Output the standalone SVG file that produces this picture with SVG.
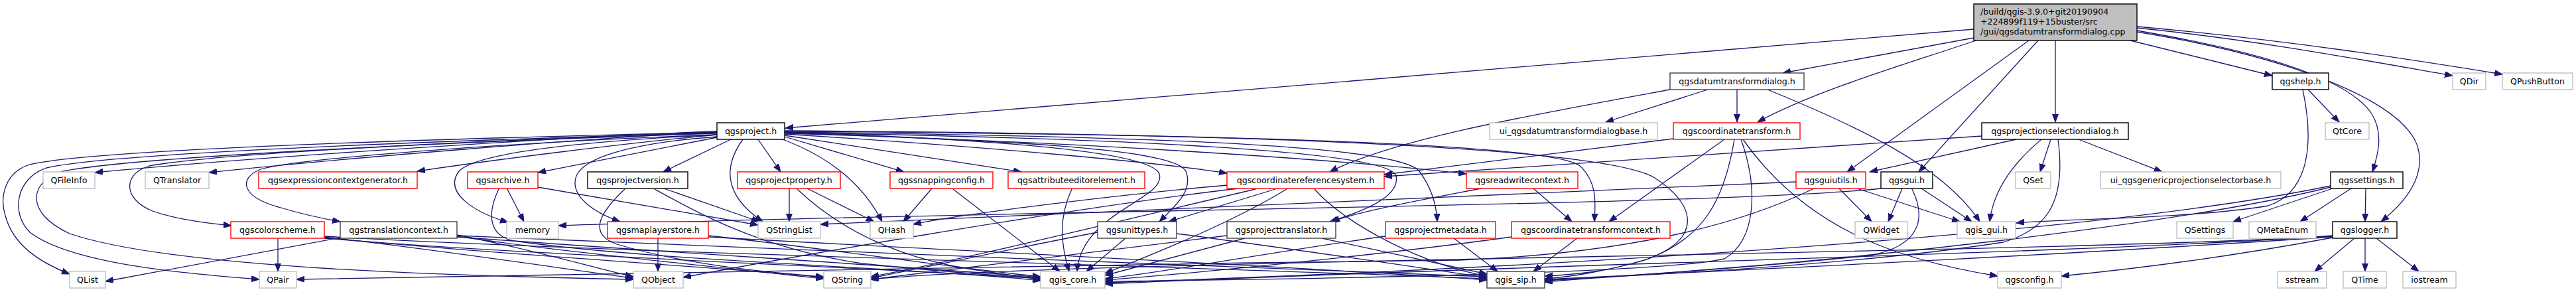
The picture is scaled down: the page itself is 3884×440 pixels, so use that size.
<svg xmlns="http://www.w3.org/2000/svg" width="3884" height="440" viewBox="0 0 3884 440">
<style>
.e{fill:none;stroke:#191970;stroke-width:1.3;marker-end:url(#a)}
.n rect{fill:#fff;stroke-width:1.4}
.r rect{stroke:#ff0000}
.g rect{stroke:#bfbfbf}
.b rect{stroke:#000}
.d rect{stroke:#404040}
text{font-family:"DejaVu Sans","Liberation Sans",sans-serif;font-size:12.6px;fill:#000}
.n text{text-anchor:middle}
</style>
<defs>
<marker id="a" markerUnits="userSpaceOnUse" markerWidth="13" markerHeight="10" refX="12" refY="4.5" orient="auto" viewBox="0 0 13 10"><path d="M0,0 L12,4.5 L0,9 z" fill="#191970" stroke="#191970" stroke-width="1"/></marker>
</defs>
<rect width="3884" height="440" fill="#fff"/>
<g id="connectors">
<path class="e" d="M2976,44 L1184,193"/>
<path class="e" d="M2976,57 L2688,110"/>
<path class="e" d="M2979,61 C2880,95 2740,135 2650,184"/>
<path class="e" d="M3059,61 L2785,259"/>
<path class="e" d="M3073,61 L2893,259"/>
<path class="e" d="M3099,61 L3099,184"/>
<path class="e" d="M3212,61 L3426,114"/>
<path class="e" d="M3222,46 C3420,80 3540,120 3575,170 C3595,200 3585,235 3577,259"/>
<path class="e" d="M3222,48 C3450,85 3620,150 3645,220 C3660,270 3620,310 3590,334"/>
<path class="e" d="M3222,42 C3400,60 3560,90 3698,114"/>
<path class="e" d="M3222,40 C3450,60 3650,92 3773,112"/>
<path class="e" d="M2575,135 L2421,184"/>
<path class="e" d="M2619,135 L2619,184"/>
<path class="e" d="M2518,135 C2300,175 2100,210 2005,259"/>
<path class="e" d="M2665,135 C2800,190 2930,250 2985,334"/>
<path class="e" d="M2523,209 L2087,263"/>
<path class="e" d="M2600,210 L2426,334"/>
<path class="e" d="M2615,210 C2600,300 2570,360 2480,392 C2420,410 2370,414 2329,416"/>
<path class="e" d="M2625,210 C2650,280 2650,360 2600,390 C2500,412 2000,420 1666,424"/>
<path class="e" d="M2628,210 C2720,340 2850,390 3012,416"/>
<path class="e" d="M3040,210 L2819,259"/>
<path class="e" d="M3078,210 C3030,250 3005,290 3000,334"/>
<path class="e" d="M3092,210 L3076,259"/>
<path class="e" d="M3134,210 L3260,259"/>
<path class="e" d="M3103,210 C3115,300 3090,345 3020,365 C2800,400 2450,416 2329,422"/>
<path class="e" d="M2988,205 L2087,266"/>
<path class="e" d="M1081,199 C800,206 150,222 45,248 C5,260 0,300 8,325 C20,370 60,395 105,413"/>
<path class="e" d="M1081,200 C800,208 170,228 70,253 C25,268 15,320 45,350 C110,400 300,414 391,421"/>
<path class="e" d="M1081,201 C800,210 220,233 95,258 C45,272 35,320 105,352 C260,405 700,416 955,421"/>
<path class="e" d="M1081,198 C900,204 400,235 143,260"/>
<path class="e" d="M1081,199 C900,207 500,240 315,260"/>
<path class="e" d="M1081,203 C950,215 750,240 629,258"/>
<path class="e" d="M1081,200 C800,208 330,230 225,250 C185,262 185,300 230,318 C270,332 320,337 349,340"/>
<path class="e" d="M1081,203 C800,213 450,238 393,255 C360,268 362,296 420,312 C460,324 490,330 513,334"/>
<path class="e" d="M1081,207 L811,260"/>
<path class="e" d="M1081,203 C900,212 720,228 692,258 C668,290 715,320 766,335"/>
<path class="e" d="M1081,206 C960,215 882,235 869,265 C858,295 895,320 935,334"/>
<path class="e" d="M1102,210 L1000,259"/>
<path class="e" d="M1120,210 C1095,245 1085,290 1150,334"/>
<path class="e" d="M1143,210 L1177,259"/>
<path class="e" d="M1180,210 C1260,240 1305,285 1330,334"/>
<path class="e" d="M1183,206 L1363,259"/>
<path class="e" d="M1183,204 L1540,259"/>
<path class="e" d="M1183,202 C1500,222 1750,245 1850,261"/>
<path class="e" d="M1183,200 C1500,212 1770,222 1788,258 C1800,288 1770,312 1748,334"/>
<path class="e" d="M1183,199 C1500,210 1735,228 1748,262 C1760,300 1630,320 1624,409"/>
<path class="e" d="M1183,201 C1600,213 2000,238 2211,262"/>
<path class="e" d="M1183,200 C1700,208 2095,228 2105,265 C2112,298 2050,320 2005,334"/>
<path class="e" d="M1183,199 C1800,206 2110,222 2140,258 C2160,285 2166,310 2167,334"/>
<path class="e" d="M1183,198 C1900,203 2340,218 2382,250 C2410,275 2405,310 2404,334"/>
<path class="e" d="M1183,197 C2000,202 2430,228 2495,268 C2560,310 2565,360 2485,390 C2420,410 2360,418 2329,420"/>
<path class="e" d="M419,359 L419,409"/>
<path class="e" d="M489,357 C650,375 850,405 955,419"/>
<path class="e" d="M489,358 C700,380 1050,400 1242,418"/>
<path class="e" d="M489,359 C800,385 1300,402 1569,420"/>
<path class="e" d="M489,356 C900,380 1700,398 2242,420"/>
<path class="e" d="M513,358 L159,424"/>
<path class="e" d="M689,354 C800,375 900,405 955,417"/>
<path class="e" d="M689,356 C850,380 1100,404 1242,420"/>
<path class="e" d="M689,357 C1000,380 1350,400 1569,418"/>
<path class="e" d="M689,355 C1100,375 1800,398 2242,417"/>
<path class="e" d="M765,285 L790,334"/>
<path class="e" d="M811,282 L1143,339"/>
<path class="e" d="M752,285 C735,320 735,355 775,363 C1000,395 1400,404 1569,423"/>
<path class="e" d="M1001,284 L1145,334"/>
<path class="e" d="M942,285 C905,320 885,352 930,368 C1030,398 1150,410 1242,417"/>
<path class="e" d="M987,285 C1060,325 1150,375 1300,397 C1420,410 1500,415 1569,419"/>
<path class="e" d="M1190,284 L1190,334"/>
<path class="e" d="M1217,284 L1318,334"/>
<path class="e" d="M1202,285 C1260,340 1340,385 1460,405 C1510,413 1540,417 1569,421"/>
<path class="e" d="M1405,284 L1362,334"/>
<path class="e" d="M1437,285 L1598,409"/>
<path class="e" d="M1616,285 C1595,330 1600,370 1612,409"/>
<path class="e" d="M1851,279 C1700,292 1450,322 1377,338"/>
<path class="e" d="M1923,285 L1762,334"/>
<path class="e" d="M1940,285 C1850,340 1720,390 1666,412"/>
<path class="e" d="M1982,285 C2030,340 2150,400 2242,416"/>
<path class="e" d="M1867,284 C1600,315 1150,395 1030,418"/>
<path class="e" d="M1893,285 C1700,330 1450,392 1313,417"/>
<path class="e" d="M1655,350 C1550,370 1400,402 1313,419"/>
<path class="e" d="M1697,359 L1638,409"/>
<path class="e" d="M1774,352 C1950,375 2150,405 2242,418"/>
<path class="e" d="M1850,355 C1650,378 1450,405 1313,421"/>
<path class="e" d="M1877,359 L1666,415"/>
<path class="e" d="M1993,359 L2242,413"/>
<path class="e" d="M2312,284 L2370,334"/>
<path class="e" d="M2233,284 C2150,300 2050,318 2008,334"/>
<path class="e" d="M2192,359 L2258,409"/>
<path class="e" d="M2089,356 C1900,382 1760,410 1666,420"/>
<path class="e" d="M2378,359 L2312,409"/>
<path class="e" d="M2279,357 C2100,382 1800,412 1666,422"/>
<path class="e" d="M992,359 L992,409"/>
<path class="e" d="M1068,355 C1250,375 1450,405 1569,417"/>
<path class="e" d="M1068,357 C1400,376 1900,398 2242,422"/>
<path class="e" d="M2773,284 L2822,334"/>
<path class="e" d="M2800,284 L2955,334"/>
<path class="e" d="M2708,274 L1237,338"/>
<path class="e" d="M2735,284 C2620,340 2450,382 2200,392 C1500,400 700,416 447,421"/>
<path class="e" d="M2836,284 C2600,310 1500,317 842,340"/>
<path class="e" d="M2868,284 L2847,334"/>
<path class="e" d="M2897,284 L2973,334"/>
<path class="e" d="M2883,285 C2905,330 2895,370 2820,385 C2600,408 2400,418 2329,425"/>
<path class="e" d="M3480,135 L3527,184"/>
<path class="e" d="M3472,135 C3490,220 3480,290 3420,310 C3300,330 3100,330 3040,336"/>
<path class="e" d="M3523,282 L3367,334"/>
<path class="e" d="M3545,284 L3468,334"/>
<path class="e" d="M3567,284 L3566,334"/>
<path class="e" d="M3514,280 C3200,345 2500,398 1666,426"/>
<path class="e" d="M3514,282 C3300,335 2800,396 2329,423"/>
<path class="e" d="M3550,359 L3490,409"/>
<path class="e" d="M3566,359 L3566,409"/>
<path class="e" d="M3583,359 L3647,409"/>
<path class="e" d="M3517,358 C3400,380 3250,402 3108,416"/>
<path class="e" d="M3517,355 C3200,380 2200,402 1666,428"/>
<path class="e" d="M3517,356 C3000,384 1600,392 1313,421"/>
<path class="e" d="M3517,357 C3100,385 2600,408 2329,421"/>
</g>
<g id="n_top" class="n"><rect x="2976" y="6" width="246" height="55" style="fill:#bfbfbf;stroke:#000"/><text x="2986" y="22" style="text-anchor:start">/build/qgis-3.9.0+git20190904</text><text x="2986" y="37" style="text-anchor:start">+224899f119+15buster/src</text><text x="2986" y="52" style="text-anchor:start">/gui/qgsdatumtransformdialog.cpp</text></g>
<g id="n_dtd" class="n d"><rect x="2518" y="110" width="202" height="25"/><text x="2619" y="127">qgsdatumtransformdialog.h</text></g>
<g id="n_help" class="n b"><rect x="3426" y="110" width="85" height="25"/><text x="3468.5" y="127">qgshelp.h</text></g>
<g id="n_qdir" class="n g"><rect x="3698" y="110" width="50" height="25"/><text x="3723" y="127">QDir</text></g>
<g id="n_qpb" class="n g"><rect x="3773" y="110" width="106" height="25"/><text x="3826" y="127">QPushButton</text></g>
<g id="n_proj" class="n b"><rect x="1081" y="185" width="102" height="25"/><text x="1132" y="202">qgsproject.h</text></g>
<g id="n_uidtd" class="n g"><rect x="2246" y="185" width="253" height="25"/><text x="2372.5" y="202">ui_qgsdatumtransformdialogbase.h</text></g>
<g id="n_ct" class="n r"><rect x="2523" y="185" width="191" height="25"/><text x="2618.5" y="202">qgscoordinatetransform.h</text></g>
<g id="n_psd" class="n b"><rect x="2988" y="185" width="221" height="25"/><text x="3098.5" y="202">qgsprojectionselectiondialog.h</text></g>
<g id="n_qtcore" class="n g"><rect x="3506" y="185" width="66" height="25"/><text x="3539" y="202">QtCore</text></g>
<g id="n_qfileinfo" class="n g"><rect x="65" y="259" width="78" height="25"/><text x="104" y="276">QFileInfo</text></g>
<g id="n_qtranslator" class="n g"><rect x="219" y="259" width="96" height="25"/><text x="267" y="276">QTranslator</text></g>
<g id="n_expr" class="n r"><rect x="390" y="259" width="239" height="25"/><text x="509.5" y="276">qgsexpressioncontextgenerator.h</text></g>
<g id="n_arch" class="n r"><rect x="705" y="259" width="106" height="25"/><text x="758" y="276">qgsarchive.h</text></g>
<g id="n_pver" class="n b"><rect x="886" y="259" width="151" height="25"/><text x="961.5" y="276">qgsprojectversion.h</text></g>
<g id="n_pprop" class="n r"><rect x="1112" y="259" width="155" height="25"/><text x="1189.5" y="276">qgsprojectproperty.h</text></g>
<g id="n_snap" class="n r"><rect x="1342" y="259" width="155" height="25"/><text x="1419.5" y="276">qgssnappingconfig.h</text></g>
<g id="n_attr" class="n r"><rect x="1520" y="259" width="206" height="25"/><text x="1623" y="276">qgsattributeeditorelement.h</text></g>
<g id="n_crs" class="n r"><rect x="1850" y="259" width="237" height="25"/><text x="1968.5" y="276">qgscoordinatereferencesystem.h</text></g>
<g id="n_rwc" class="n r"><rect x="2211" y="259" width="168" height="25"/><text x="2295" y="276">qgsreadwritecontext.h</text></g>
<g id="n_guiu" class="n r"><rect x="2708" y="259" width="105" height="25"/><text x="2760.5" y="276">qgsguiutils.h</text></g>
<g id="n_gui" class="n b"><rect x="2836" y="259" width="78" height="25"/><text x="2875" y="276">qgsgui.h</text></g>
<g id="n_qset" class="n g"><rect x="3039" y="259" width="53" height="25"/><text x="3065.5" y="276">QSet</text></g>
<g id="n_uigen" class="n g"><rect x="3167" y="259" width="272" height="25"/><text x="3303" y="276">ui_qgsgenericprojectionselectorbase.h</text></g>
<g id="n_sett" class="n b"><rect x="3514" y="259" width="109" height="25"/><text x="3568.5" y="276">qgssettings.h</text></g>
<g id="n_color" class="n r"><rect x="348" y="334" width="141" height="25"/><text x="418.5" y="351">qgscolorscheme.h</text></g>
<g id="n_trctx" class="n d"><rect x="513" y="334" width="176" height="25"/><text x="601" y="351">qgstranslationcontext.h</text></g>
<g id="n_memory" class="n g"><rect x="764" y="334" width="78" height="25"/><text x="803" y="351">memory</text></g>
<g id="n_mls" class="n r"><rect x="916" y="334" width="152" height="25"/><text x="992" y="351">qgsmaplayerstore.h</text></g>
<g id="n_qsl" class="n g"><rect x="1143" y="334" width="94" height="25"/><text x="1190" y="351">QStringList</text></g>
<g id="n_qhash" class="n g"><rect x="1312" y="334" width="65" height="25"/><text x="1344.5" y="351">QHash</text></g>
<g id="n_unit" class="n d"><rect x="1655" y="334" width="119" height="25"/><text x="1714.5" y="351">qgsunittypes.h</text></g>
<g id="n_ptr" class="n d"><rect x="1850" y="334" width="164" height="25"/><text x="1932" y="351">qgsprojecttranslator.h</text></g>
<g id="n_pmeta" class="n r"><rect x="2089" y="334" width="166" height="25"/><text x="2172" y="351">qgsprojectmetadata.h</text></g>
<g id="n_ctctx" class="n r"><rect x="2279" y="334" width="239" height="25"/><text x="2398.5" y="351">qgscoordinatetransformcontext.h</text></g>
<g id="n_qwidget" class="n g"><rect x="2797" y="334" width="79" height="25"/><text x="2836.5" y="351">QWidget</text></g>
<g id="n_qgui" class="n g"><rect x="2951" y="334" width="88" height="25"/><text x="2995" y="351">qgis_gui.h</text></g>
<g id="n_qsettings" class="n g"><rect x="3282" y="334" width="85" height="25"/><text x="3324.5" y="351">QSettings</text></g>
<g id="n_qmeta" class="n g"><rect x="3391" y="334" width="101" height="25"/><text x="3441.5" y="351">QMetaEnum</text></g>
<g id="n_logger" class="n b"><rect x="3517" y="334" width="97" height="25"/><text x="3565.5" y="351">qgslogger.h</text></g>
<g id="n_qlist" class="n g"><rect x="105" y="409" width="54" height="25"/><text x="132" y="426">QList</text></g>
<g id="n_qpair" class="n g"><rect x="391" y="409" width="56" height="25"/><text x="419" y="426">QPair</text></g>
<g id="n_qobject" class="n g"><rect x="955" y="409" width="75" height="25"/><text x="992.5" y="426">QObject</text></g>
<g id="n_qstring" class="n g"><rect x="1242" y="409" width="71" height="25"/><text x="1277.5" y="426">QString</text></g>
<g id="n_qcore" class="n g"><rect x="1569" y="409" width="97" height="25"/><text x="1617.5" y="426">qgis_core.h</text></g>
<g id="n_qsip" class="n d"><rect x="2242" y="409" width="87" height="25"/><text x="2285.5" y="426">qgis_sip.h</text></g>
<g id="n_qconfig" class="n g"><rect x="3012" y="409" width="96" height="25"/><text x="3060" y="426">qgsconfig.h</text></g>
<g id="n_sstream" class="n g"><rect x="3434" y="409" width="74" height="25"/><text x="3471" y="426">sstream</text></g>
<g id="n_qtime" class="n g"><rect x="3533" y="409" width="65" height="25"/><text x="3565.5" y="426">QTime</text></g>
<g id="n_iostream" class="n g"><rect x="3623" y="409" width="80" height="25"/><text x="3663" y="426">iostream</text></g>
</svg>
